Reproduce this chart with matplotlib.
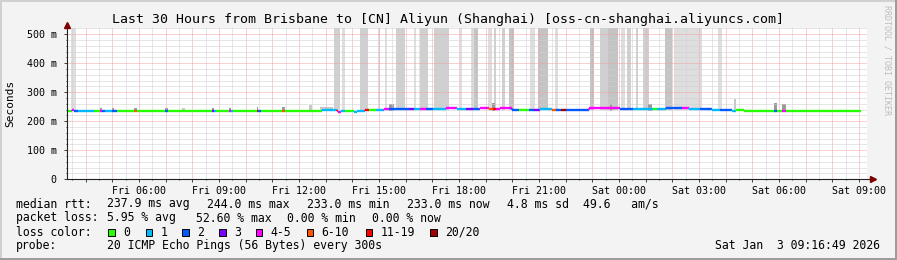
import matplotlib
matplotlib.use("Agg")
import matplotlib.pyplot as plt
from matplotlib.patches import Rectangle
from matplotlib.ticker import MultipleLocator, FuncFormatter
import matplotlib.transforms as mtransforms

# ---------------- data ----------------
# time axis: hours since Fri 00:00 ; window = last 30 hours ending Sat 09:16:49
t_end = 33 + 16 / 60 + 49 / 3600
t_start = t_end - 30

# median rtt segments (start hour, median ms, loss class); last segment ends at med_last
med_t = [3.28, 3.47, 3.58, 3.73, 4.33, 4.52, 4.63, 4.74, 4.97, 5.16, 5.83, 5.91,
         6.99, 7.07, 8.72, 8.83, 8.87, 9.39, 9.46, 9.54, 10.41, 10.48, 10.56, 11.38,
         11.46, 12.69, 12.88, 13.41, 13.48, 13.59, 13.74, 14.08, 14.19, 14.49, 14.61,
         14.87, 15.17, 15.36, 15.77, 16.14, 16.33, 16.52, 16.78, 17.01, 17.53, 17.91,
         18.28, 18.51, 18.77, 19.14, 19.29, 19.40, 19.52, 20.00, 20.26, 20.64, 20.83,
         21.05, 21.50, 21.65, 21.84, 22.03, 22.89, 24.02, 24.51, 25.26, 25.44, 25.78,
         26.38, 26.64, 27.02, 27.47, 27.77, 28.25, 28.40, 28.70, 29.83, 29.94, 30.13,
         30.28]
med_last = 33.09
med_ms = [237, 238, 237, 236, 235, 236, 235, 235, 234, 234, 234, 234,
          234, 234, 234, 234, 234, 234, 234, 234, 234, 234, 234, 234,
          234, 236, 238, 234, 233, 236, 234, 233, 236, 238, 238,
          240, 242, 242, 243, 242, 243, 243, 243, 243, 244, 243,
          243, 243, 244, 243, 243, 243, 244, 239, 238, 238, 240,
          241, 239, 238, 238, 238, 244, 243, 243, 243, 243, 244,
          244, 243, 241, 240, 239, 237, 238, 234, 234, 234, 234,
          234]
med_loss = [0, 4, 2, 1, 0, 4, 2, 1, 2, 0, 5, 0,
            2, 0, 3, 1, 0, 4, 1, 0, 6, 2, 0, 5,
            0, 0, 1, 6, 4, 1, 0, 1, 1, 6, 0,
            1, 4, 2, 2, 3, 1, 4, 2, 1, 4, 1,
            3, 2, 4, 5, 6, 4, 4, 2, 0, 2, 3,
            1, 5, 2, 7, 2, 4, 2, 1, 0, 1, 2,
            4, 1, 2, 1, 2, 1, 0, 0, 2, 0, 4,
            0]

# tall smoke (off-scale ping spread)
smoke_t0 = [3.44, 13.32, 13.63, 14.30, 14.97, 15.24, 15.65, 16.33, 16.52, 17.07,
            18.04, 18.44, 18.57, 19.07, 19.30, 19.62, 19.89, 20.65, 20.97, 21.59,
            22.90, 23.30, 23.59, 24.07, 24.31, 24.65, 24.90, 25.74, 26.07, 27.72]
smoke_t1 = [3.65, 13.54, 13.73, 14.57, 15.04, 15.31, 15.99, 16.40, 16.82, 17.63,
            18.12, 18.57, 18.72, 19.22, 19.37, 19.74, 20.07, 20.84, 21.32, 21.72,
            23.08, 23.59, 23.97, 24.24, 24.46, 24.71, 25.12, 25.97, 27.12, 27.87]
smoke_shade = [0, 1, 0, 1, 0, 0, 1, 0, 1, 1,
               0, 0, 2, 0, 1, 1, 2, 0, 2, 0,
               2, 1, 2, 0, 1, 1, 1, 2, 0, 0]
smoke_low = 238
smoke_high = 523

# small smoke bumps above the median
bump_t0 = [4.52, 4.97, 5.83, 6.99, 7.63, 8.72, 9.39, 10.41, 11.38, 12.39, 12.77,
           15.36, 19.23, 23.66, 25.07, 28.33, 29.83, 30.13]
bump_t1 = [4.63, 5.08, 5.91, 7.07, 7.74, 8.83, 9.46, 10.48, 11.46, 12.47, 13.26,
           15.55, 19.34, 23.74, 25.22, 28.40, 29.94, 30.28]
bump_top = [247, 246, 246, 245, 247, 246, 247, 250, 249, 257, 249,
            259, 262, 258, 258, 276, 262, 259]
bump_shade = [1, 1, 1, 1, 0, 1, 1, 1, 1, 0, 0, 1, 1, 1, 1, 0, 1, 1]

loss_labels = ['0', '1', '2', '3', '4-5', '6-10', '11-19', '20/20']
loss_colors = ['#26ff00', '#00b8ff', '#0059ff', '#7e00ff', '#ff00ff', '#ff5500', '#ff0000', '#a10000']
smoke_colors = ['#dedede', '#d0d0d0', '#c4c4c4']
bump_colors = ['#c8c8c8', '#9a9a9a']

title = 'Last 30 Hours from Brisbane to [CN] Aliyun (Shanghai) [oss-cn-shanghai.aliyuncs.com]'
legend_rtt = [('median rtt:', 16), ('237.9 ms avg', 107.3), ('244.0 ms max', 207.3),
              ('233.0 ms min', 307.3), ('233.0 ms now', 407.3), ('4.8 ms sd', 507.3),
              ('49.6   am/s', 583)]
legend_loss = [('packet loss:', 16), ('5.95 % avg', 107.3), ('52.60 % max', 196),
               ('0.00 % min', 286.7), ('0.00 % now', 372.3)]
swatch_x = [108.3, 145.7, 182.3, 219, 255.7, 306.7, 365.7, 430]
probe_text = '20 ICMP Echo Pings (56 Bytes) every 300s'
stamp = 'Sat Jan  3 09:16:49 2026'

# ---------------- figure ----------------
FONT = 'DejaVu Sans Mono'
plt.rcParams['font.family'] = [FONT, 'DejaVu Sans']
W, H = 897, 260
fig = plt.figure(figsize=(W / 100, H / 100), dpi=100, facecolor='#f3f3f3')

def fx(x):
    return x / W

def fy(y):
    return 1 - y / H

L, R, T, B = 66.5, 866.5, 27.5, 179.3
ax = fig.add_axes([fx(L), fy(B), (R - L) / W, (B - T) / H])
ax.set_facecolor('white')
ax.set_xlim(t_start, t_end)
ax.set_ylim(0, 523)

# smoke
for a, b, s in zip(smoke_t0, smoke_t1, smoke_shade):
    ax.bar(a, smoke_high - smoke_low, width=b - a, bottom=smoke_low, align='edge',
           color=smoke_colors[s], linewidth=0, zorder=1)
for a, b, top, s in zip(bump_t0, bump_t1, bump_top, bump_shade):
    ax.bar(a, top - 236, width=b - a, bottom=236, align='edge',
           color=bump_colors[s], linewidth=0, zorder=1.5)

# median line, colored by loss
ends = med_t[1:] + [med_last]
ax.hlines(med_ms, med_t, ends, colors=[loss_colors[k] for k in med_loss],
          linewidth=1.7, zorder=3)
for i in range(1, len(med_t)):
    if med_ms[i] != med_ms[i - 1]:
        ax.vlines(med_t[i], min(med_ms[i], med_ms[i - 1]), max(med_ms[i], med_ms[i - 1]),
                  colors=loss_colors[med_loss[i]], linewidth=1.2, zorder=3)

# grid & ticks
ax.xaxis.set_major_locator(MultipleLocator(1))
ax.xaxis.set_minor_locator(MultipleLocator(0.5))
ax.yaxis.set_major_locator(MultipleLocator(100))
ax.yaxis.set_minor_locator(MultipleLocator(20))

def xfmt(v, pos):
    h = int(round(v))
    if h % 3:
        return ''
    day = 'Fri' if h < 24 else 'Sat'
    return f'{day} {h % 24:02d}:00'

def yfmt(v, pos):
    return '0' if v == 0 else f'{v:.0f} m'

ax.xaxis.set_major_formatter(FuncFormatter(xfmt))
ax.yaxis.set_major_formatter(FuncFormatter(yfmt))
ax.set_axisbelow(False)
ax.grid(which='major', color='#f4a0a0', linestyle=(0, (1, 1)), linewidth=0.72, zorder=2)
ax.grid(which='minor', color='#cfcfcf', linestyle=(0, (1, 1)), linewidth=0.72, zorder=2)
for gl in ax.get_xgridlines() + ax.get_ygridlines():
    gl.set_zorder(2)
ax.tick_params(which='major', length=2, width=0.72, color='#444444', labelsize=7.2,
               labelcolor='black')
ax.tick_params(which='minor', length=1, width=0.72, color='#444444')
ax.tick_params(axis='x', pad=3)
ax.tick_params(axis='y', pad=5)
for lab in ax.get_xticklabels() + ax.get_yticklabels():
    lab.set_fontfamily(FONT)
for side in ('top', 'right'):
    ax.spines[side].set_visible(False)
for side in ('left', 'bottom'):
    ax.spines[side].set_color('#222222')
    ax.spines[side].set_linewidth(0.8)
    ax.spines[side].set_zorder(4)

# arrows
up = mtransforms.offset_copy(ax.transAxes, fig=fig, x=0, y=3, units='dots')
ax.plot([0], [1], marker='^', markersize=5, color='#7f0000', transform=up, clip_on=False, zorder=5)
rt = mtransforms.offset_copy(ax.transAxes, fig=fig, x=6, y=0, units='dots')
ax.plot([1], [0], marker='>', markersize=5, color='#7f0000', transform=rt, clip_on=False, zorder=5)
ext = mtransforms.blended_transform_factory(fig.transFigure, ax.transAxes)
ax.plot([fx(R), fx(R + 4)], [0, 0], color='#222222', lw=0.8, transform=ext, clip_on=False)

# texts
fig.text(fx(448), fy(23.3), title, ha='center', va='baseline', fontsize=9.5, family=FONT)
fig.text(fx(10), fy(103), 'Seconds', rotation=90, ha='center', va='center', fontsize=8, family=FONT)
fig.text(fx(887), fy(5), 'RRDTOOL / TOBI OETIKER', rotation=-90, ha='center', va='top',
         fontsize=6, color='#bdbdbd', family=FONT)

LEG = 8.3
for s, x in legend_rtt:
    fig.text(fx(x), fy(207.5), s, ha='left', va='baseline', fontsize=LEG, family=FONT)
for s, x in legend_loss:
    fig.text(fx(x), fy(221.5), s, ha='left', va='baseline', fontsize=LEG, family=FONT)
fig.text(fx(16), fy(235.5), 'loss color:', ha='left', va='baseline', fontsize=LEG, family=FONT)
for x, c, lab in zip(swatch_x, loss_colors, loss_labels):
    fig.add_artist(Rectangle((fx(x), fy(235.7)), 6.7 / W, 6.7 / H, transform=fig.transFigure,
                             facecolor=c, edgecolor='black', linewidth=0.7))
    fig.text(fx(x + 15), fy(235.5), lab, ha='left', va='baseline', fontsize=LEG, family=FONT)
fig.text(fx(16), fy(249.4), 'probe:', ha='left', va='baseline', fontsize=LEG, family=FONT)
fig.text(fx(107.3), fy(249.4), probe_text, ha='left', va='baseline', fontsize=LEG, family=FONT)
fig.text(fx(880), fy(249.4), stamp, ha='right', va='baseline', fontsize=LEG, family=FONT)

# frame
fig.add_artist(Rectangle((0, 1 - 2 / H), 1, 2 / H, transform=fig.transFigure, color='#d0d0d0', lw=0))
fig.add_artist(Rectangle((0, 0), 2 / W, 1, transform=fig.transFigure, color='#d0d0d0', lw=0))
fig.add_artist(Rectangle((0, 0), 1, 2 / H, transform=fig.transFigure, color='#9c9c9c', lw=0))
fig.add_artist(Rectangle((1 - 2 / W, 0), 2 / W, 1, transform=fig.transFigure, color='#9c9c9c', lw=0))

fig.savefig('out.png', dpi=100, facecolor=fig.get_facecolor())
